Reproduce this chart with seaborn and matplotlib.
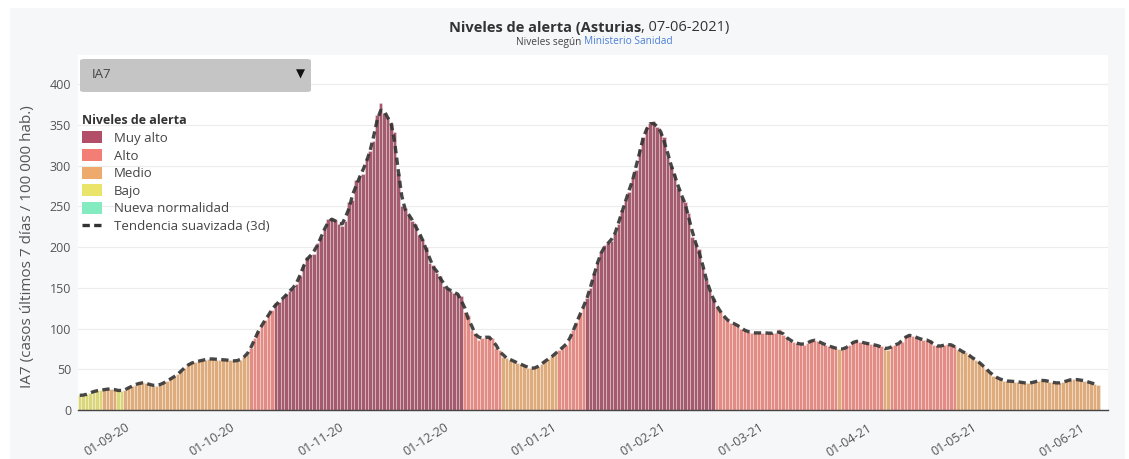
# Import the packages
import pandas as pd
import matplotlib.pyplot as plt
import seaborn as sns
from matplotlib.patches import Patch, FancyBboxPatch
from matplotlib.lines import Line2D

# Daily IA7 values (cases last 7 days / 100 000 hab.), 19-08-2020 .. 06-06-2021
ia7_aug = [18, 18, 19, 21, 23, 24, 24, 25, 26, 26, 25, 24, 23]
ia7_sep = [25, 27, 30, 31, 33, 34, 33, 31, 30, 30, 31, 33, 36, 39, 40,
           44, 48, 52, 56, 58, 59, 60, 61, 62, 63, 63, 62, 62, 62, 61]
ia7_oct = [61, 60, 60, 62, 65, 69, 76, 88, 97, 104, 110, 118, 123, 131, 133, 136,
           142, 146, 150, 155, 165, 178, 188, 190, 192, 205, 212, 222, 234, 236, 233]
ia7_nov = [228, 226, 232, 255, 258, 282, 287, 290, 310, 318, 330, 362, 377, 365, 360,
           352, 342, 291, 250, 248, 240, 232, 228, 215, 210, 200, 181, 178, 168, 165]
ia7_dec = [152, 150, 146, 144, 143, 140, 120, 117, 98, 95, 86, 88, 90, 90, 88, 76,
           74, 65, 64, 62, 60, 58, 56, 55, 52, 51, 51, 53, 57, 60, 63]
ia7_jan = [66, 69, 74, 77, 80, 86, 98, 108, 118, 127, 138, 150, 168, 182, 194, 203,
           205, 207, 218, 228, 246, 258, 268, 285, 295, 320, 335, 348, 352, 355, 348]
ia7_feb = [342, 335, 311, 300, 290, 273, 262, 255, 242, 212, 205, 198, 176, 160,
           147, 137, 127, 121, 116, 110, 107, 106, 105, 100, 98, 96, 95, 95]
ia7_mar = [94, 95, 95, 94, 94, 95, 99, 92, 90, 85, 83, 82, 81, 80, 82, 86,
           86, 85, 82, 80, 79, 77, 76, 75, 74, 76, 80, 83, 86, 84, 82]
ia7_apr = [82, 81, 80, 79, 78, 75, 74, 79, 80, 81, 84, 92, 92, 91, 90,
           87, 86, 86, 86, 80, 78, 78, 80, 81, 80, 79, 74, 72, 71, 67]
ia7_may = [65, 61, 59, 55, 50, 47, 42, 40, 38, 36, 36, 35, 35, 35, 34, 33,
           33, 33, 35, 36, 37, 36, 35, 34, 33, 33, 34, 36, 37, 38, 37]
ia7_jun = [37, 36, 35, 33, 32, 31]

# Alert level of each run of consecutive days
level_names = ["Muy alto", "Alto", "Medio", "Bajo", "Nueva normalidad"]
level_colors = ["#b24e68", "#f27e76", "#eeaa6c", "#ebe46a", "#84eabf"]
level_runs = [("Bajo", 7), ("Medio", 4), ("Bajo", 2), ("Medio", 36), ("Alto", 7),
              ("Muy alto", 54), ("Alto", 11), ("Medio", 16), ("Alto", 8),
              ("Muy alto", 37), ("Alto", 35), ("Medio", 1), ("Alto", 12),
              ("Medio", 2), ("Alto", 19), ("Medio", 41)]

# Build the table
values = (ia7_aug + ia7_sep + ia7_oct + ia7_nov + ia7_dec + ia7_jan
          + ia7_feb + ia7_mar + ia7_apr + ia7_may + ia7_jun)
levels = [name for name, n in level_runs for _ in range(n)]
df = pd.DataFrame({
    "fecha": pd.date_range("2020-08-19", periods=len(values)),
    "ia7": values,
    "nivel": levels})
df["dia"] = range(len(df))
df["tendencia"] = df["ia7"].rolling(3, center=True, min_periods=1).mean()

# Style
sns.set_style("white")
plt.rcParams["font.family"] = ["Open Sans", "DejaVu Sans"]
W, H = 1129, 459
fig = plt.figure(figsize=(W / 100, H / 100), dpi=100, facecolor="white")
fig.patches.append(FancyBboxPatch((10 / W, 0), 1115 / W, 1 - 8 / H,
                                  boxstyle="square,pad=0", transform=fig.transFigure,
                                  facecolor="#f6f7f9", edgecolor="none", zorder=-10))
ax = fig.add_axes([78 / W, 1 - 410 / H, 1030 / W, 355 / H])
ax.set_facecolor("white")

# Bars
sns.barplot(data=df, x="dia", y="ia7", hue="nivel", hue_order=level_names,
            palette=level_colors, dodge=False, native_scale=True, width=1.0,
            errorbar=None, linewidth=0.6, edgecolor=(1, 1, 1, 0.35),
            legend=False, ax=ax)

# Smoothed trend
sns.lineplot(x=df["dia"], y=df["tendencia"], color="#333333", linewidth=2.4,
             linestyle=(0, (2.2, 1.3)), alpha=0.9, ax=ax)

# Axes
ax.set_xlim(-0.5, 293.8)
ax.set_ylim(0, 436)
ax.set_yticks(range(0, 401, 50))
ax.yaxis.grid(True, color="#ececec", linewidth=0.8)
ax.set_axisbelow(True)
firsts = df[df["fecha"].dt.day == 1]
ax.set_xticks(firsts["dia"])
ax.set_xticklabels(firsts["fecha"].dt.strftime("%d-%m-%y"), rotation=32,
                   ha="right", rotation_mode="anchor")
ax.tick_params(axis="x", length=0, pad=8, labelsize=9, labelcolor="#555555")
ax.tick_params(axis="y", length=0, pad=5, labelsize=9, labelcolor="#555555")
for side in ["top", "right", "left"]:
    ax.spines[side].set_visible(False)
ax.spines["bottom"].set_color("#444444")
ax.spines["bottom"].set_linewidth(1)
ax.set_xlabel("")
ax.set_ylabel("IA7 (casos últimos 7 días / 100 000 hab.)", fontsize=11, color="#555555")
ax.yaxis.set_label_coords(-0.042, 0.46)

# Legend
handles = [Patch(facecolor=c, edgecolor="none", label=n)
           for n, c in zip(level_names, level_colors)]
handles.append(Line2D([], [], color="#333333", linewidth=2.4,
                      linestyle=(0, (2.2, 1.3)), label="Tendencia suavizada (3d)"))
leg = ax.legend(handles=handles, title="Niveles de alerta", loc="upper left",
                bbox_to_anchor=(73 / W, 1 - 105 / H), bbox_transform=fig.transFigure,
                frameon=False, fontsize=9.5, labelcolor="#444444",
                handlelength=1.5, handleheight=1.0, labelspacing=0.32,
                handletextpad=0.9, borderpad=0.2)
leg.get_title().set_fontweight("bold")
leg.get_title().set_fontsize(9)
leg.get_title().set_color("#333333")
leg._legend_box.align = "left"

# Dropdown box
fig.patches.append(FancyBboxPatch((80 / W, 1 - 92 / H), 231 / W, 33 / H,
                                  boxstyle="round,pad=0,rounding_size=0.004",
                                  transform=fig.transFigure, facecolor="#c5c5c5",
                                  edgecolor="none", zorder=5))
fig.text(92 / W, 1 - 75 / H, "IA7", fontsize=9.5, color="#444444", va="center", zorder=6)
fig.text(300 / W, 1 - 74 / H, "▼", fontsize=8.5, color="#111111", va="center",
         ha="center", family="DejaVu Sans", zorder=6)

# Titles
fig.text(641 / W, 1 - 28 / H, "Niveles de alerta (Asturias", fontsize=10.5,
         fontweight="bold", color="#333333", ha="right", va="center")
fig.text(641 / W, 1 - 28 / H, ", 07-06-2021)", fontsize=10.5, color="#333333",
         ha="left", va="center")
fig.text(581 / W, 1 - 42 / H, "Niveles según", fontsize=7.3, color="#444444",
         ha="right", va="center")
fig.text(584 / W, 1 - 42 / H, "Ministerio Sanidad", fontsize=7.3, color="#4a7fd6",
         ha="left", va="center")

plt.savefig("out.png", dpi=100, facecolor=fig.get_facecolor())
